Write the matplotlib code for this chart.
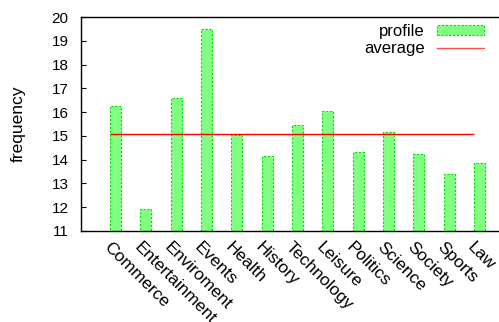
import matplotlib
matplotlib.use("Agg")
import matplotlib.pyplot as plt
import matplotlib.transforms as mtransforms
from matplotlib.patches import Patch
from matplotlib.lines import Line2D
import numpy as np

categories = ["Commerce", "Entertainment", "Enviroment", "Events", "Health",
              "History", "Technology", "Leisure", "Politics", "Science",
              "Society", "Sports", "Law"]
profile = [16.26, 11.94, 16.58, 19.50, 15.04, 14.17, 15.46, 16.06,
           14.31, 15.16, 14.24, 13.40, 13.86]
average = float(np.mean(profile))
y_ticks = list(range(11, 21))

plt.rcParams["font.family"] = ["Liberation Sans", "DejaVu Sans"]
plt.rcParams["font.size"] = 11.5

W, H = 499, 322
fig = plt.figure(figsize=(W / 100, H / 100), dpi=100)

# axes box in pixel terms: left spine at x=81, top at y=17, bottom at y=231
px_per_unit = 30.33
x0_px = 115.5
left_px, top_px, bottom_px = 81, 17, 231
xmin = -(x0_px - left_px) / px_per_unit
xmax = 13.0
width_px = (xmax - xmin) * px_per_unit
ax = fig.add_axes([left_px / W, 1 - bottom_px / H, width_px / W,
                   (bottom_px - top_px) / H])

x = np.arange(len(categories))
bw = 0.36
bar_fill, bar_edge, bar_dash = "#80ff80", "#00e000", (0, (2, 1.5))
ax.bar(x, [v - 11 for v in profile], bottom=11, width=bw,
       color=bar_fill, edgecolor=bar_edge, linestyle=bar_dash,
       linewidth=0.8, zorder=2)
ax.hlines(average, x[0] - bw / 2, x[-1] - bw / 2, color="red",
          linewidth=1.0, zorder=3)

ax.set_xlim(xmin, xmax)
ax.set_ylim(11, 20)
ax.set_yticks(y_ticks)
ax.set_yticklabels([str(t) for t in y_ticks], fontsize=11)
ax.tick_params(axis="y", direction="in", length=3.6, width=0.8, pad=9,
               right=False)
ax.tick_params(axis="x", length=0, pad=6)
ax.set_xticks(x)
ax.set_xticklabels(categories, rotation=-45, ha="left", va="top",
                   rotation_mode="anchor", fontsize=12.5)
shift = mtransforms.ScaledTranslation(-4 / 100, 0, fig.dpi_scale_trans)
for lbl in ax.get_xticklabels():
    lbl.set_transform(lbl.get_transform() + shift)

for s in ax.spines.values():
    s.set_linewidth(1.0)

fig.text(18 / W, 1 - 124 / H, "frequency", rotation=90, ha="center",
         va="center", fontsize=12.5)

handles = [Patch(facecolor=bar_fill, edgecolor=bar_edge, linestyle=bar_dash,
                 linewidth=0.8),
           Line2D([], [], color="#ff5050", linewidth=1.0)]
fig.legend(handles, ["profile", "average"], loc="upper right",
           bbox_to_anchor=(484 / W, 1 - 24 / H), fontsize=12,
           frameon=False, markerfirst=False, handlelength=2.8,
           handleheight=0.55, handletextpad=0.75, labelspacing=0.12,
           borderaxespad=0, borderpad=0)

fig.savefig("out.png", dpi=100)
